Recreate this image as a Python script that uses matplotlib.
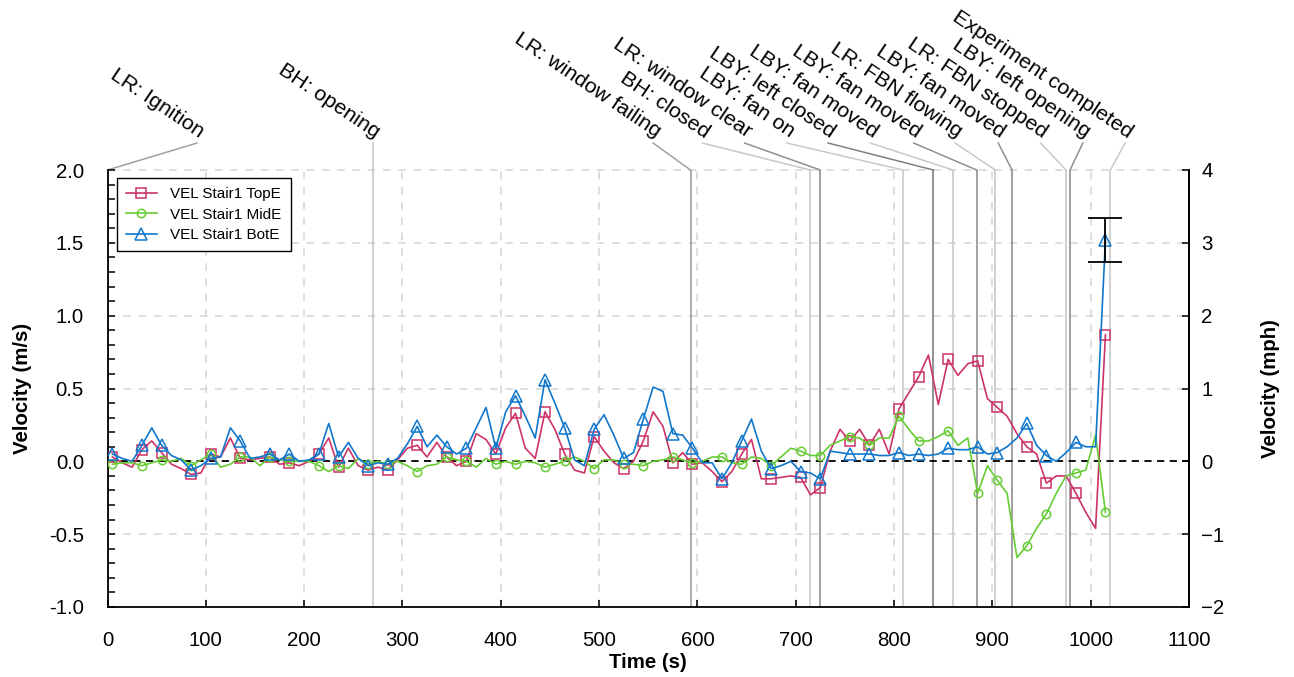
import matplotlib
matplotlib.use('Agg')
import matplotlib.pyplot as plt
from matplotlib.ticker import MultipleLocator

plt.rcParams['font.family'] = ['Liberation Sans', 'DejaVu Sans']

# ---------------- data ----------------
time_s = [5, 15, 25, 35, 45, 55, 65, 75, 85, 95,
          105, 115, 125, 135, 145, 155, 165, 175, 185, 195,
          205, 215, 225, 235, 245, 255, 265, 275, 285, 295,
          305, 315, 325, 335, 345, 355, 365, 375, 385, 395,
          405, 415, 425, 435, 445, 455, 465, 475, 485, 495,
          505, 515, 525, 535, 545, 555, 565, 575, 585, 595,
          605, 615, 625, 635, 645, 655, 665, 675, 685, 695,
          705, 715, 725, 735, 745, 755, 765, 775, 785, 795,
          805, 815, 825, 835, 845, 855, 865, 875, 885, 895,
          905, 915, 925, 935, 945, 955, 965, 975, 985, 995,
          1005, 1015]

top_e = [0.03, -0.01, -0.04, 0.08, 0.14, 0.06, -0.02, -0.05, -0.09, -0.08,
         0.05, 0.03, 0.16, 0.02, 0.01, 0.02, 0.03, -0.02, -0.01, -0.03,
         0.00, 0.05, 0.16, -0.04, 0.09, -0.03, -0.06, -0.04, -0.06, 0.01,
         0.09, 0.11, 0.03, 0.13, 0.03, -0.03, 0.00, 0.19, 0.15, 0.05,
         0.23, 0.33, 0.09, 0.02, 0.34, 0.22, 0.05, -0.06, -0.08, 0.17,
         0.07, -0.01, -0.05, 0.00, 0.14, 0.34, 0.24, -0.01, 0.06, -0.02,
         -0.01, -0.07, -0.14, -0.07, 0.05, 0.15, -0.12, -0.12, -0.11, -0.10,
         -0.11, -0.23, -0.18, 0.07, 0.22, 0.14, 0.22, 0.11, 0.22, 0.05,
         0.36, 0.47, 0.58, 0.73, 0.39, 0.70, 0.59, 0.67, 0.69, 0.43,
         0.37, 0.31, 0.19, 0.10, 0.05, -0.15, -0.10, -0.10, -0.22, -0.35,
         -0.46, 0.87]

mid_e = [-0.02, -0.01, -0.01, -0.03, -0.01, 0.01, 0.00, 0.02, -0.03, 0.01,
         0.05, -0.04, -0.02, 0.03, 0.03, -0.03, 0.03, 0.01, 0.00, 0.00,
         0.00, -0.03, -0.07, -0.03, -0.05, 0.02, -0.02, 0.00, -0.02, 0.00,
         -0.03, -0.07, -0.03, -0.02, 0.03, 0.01, 0.00, -0.04, 0.02, -0.02,
         0.00, -0.02, 0.00, -0.01, -0.04, -0.02, 0.00, 0.03, 0.00, -0.05,
         0.01, 0.01, -0.02, -0.02, -0.03, 0.00, 0.01, 0.03, 0.01, -0.01,
         0.00, 0.03, 0.03, -0.01, -0.02, 0.03, 0.02, -0.03, 0.03, 0.09,
         0.07, 0.04, 0.04, 0.11, 0.14, 0.17, 0.16, 0.11, 0.16, 0.16,
         0.31, 0.22, 0.14, 0.14, 0.17, 0.21, 0.11, 0.16, -0.22, -0.03,
         -0.13, -0.22, -0.66, -0.58, -0.46, -0.36, -0.22, -0.10, -0.08, -0.06,
         0.18, -0.35]

bot_e = [0.05, 0.02, 0.00, 0.11, 0.23, 0.11, 0.04, 0.01, -0.06, -0.03,
         0.02, 0.03, 0.23, 0.14, 0.02, 0.03, 0.05, 0.01, 0.05, 0.00,
         0.01, 0.05, 0.26, 0.03, 0.13, 0.02, -0.03, -0.01, -0.02, 0.02,
         0.12, 0.24, 0.10, 0.18, 0.10, 0.05, 0.09, 0.23, 0.37, 0.09,
         0.34, 0.45, 0.31, 0.16, 0.56, 0.40, 0.23, 0.01, -0.03, 0.22,
         0.32, 0.18, 0.02, 0.06, 0.29, 0.51, 0.48, 0.19, 0.18, 0.09,
         -0.01, -0.01, -0.12, -0.01, 0.14, 0.29, 0.07, -0.05, -0.03, 0.00,
         -0.07, -0.08, -0.12, 0.07, 0.06, 0.05, 0.05, 0.05, 0.04, 0.04,
         0.06, 0.04, 0.05, 0.04, 0.05, 0.09, 0.08, 0.08, 0.10, 0.05,
         0.06, 0.10, 0.16, 0.26, 0.11, 0.04, 0.00, 0.06, 0.13, 0.10,
         0.10, 1.52]

bot_e_last_err = 0.15

event_times = [0, 270, 593, 715, 725, 809, 840, 860, 884, 903, 920, 975, 979, 1020]
event_labels = ['LR: Ignition', 'BH: opening', 'LR: window failing', 'BH: closed',
                'LR: window clear', 'LBY: fan on', 'LBY: left closed', 'LBY: fan moved',
                'LBY: fan moved', 'LR: FBN flowing', 'LBY: fan moved', 'LR: FBN stopped',
                'LBY: left opening', 'Experiment completed']

series_labels = ['VEL Stair1 TopE', 'VEL Stair1 MidE', 'VEL Stair1 BotE']

# ---------------- layout / style ----------------
label_end_x = [91, 270, 555, 605, 648, 691, 733, 776, 820, 862, 906, 949, 992, 1035]
event_colors = ['#a0a0a0', '#c8c8c8', '#a0a0a0', '#c8c8c8', '#909090', '#c8c8c8', '#808080',
                '#c8c8c8', '#909090', '#c8c8c8', '#909090', '#c8c8c8', '#909090', '#c8c8c8']
mark_idx = [0, 3, 5, 8, 10, 13, 16, 18, 21, 23, 26, 28, 31, 34, 36, 39, 41, 44, 46, 49,
            52, 54, 57, 59, 62, 64, 67, 70, 72, 75, 77, 80, 82, 85, 88, 90, 93, 95, 98, 101]
RED, GREEN, BLUE = '#CC3366', '#66CC33', '#1177CC'
FS = 14.7
FS_EV = 15.4

W, H = 1294, 677
fig = plt.figure(figsize=(W / 100, H / 100), dpi=100)
L, R, T, B = 107.5, 1189, 170, 607
ax = fig.add_axes([L / W, 1 - B / H, (R - L) / W, (B - T) / H])

ax.set_xlim(0, 1100)
ax.set_ylim(-1, 2)

# grid
for gx in range(100, 1100, 100):
    ax.plot([gx, gx], [-1, 2], color='#d4d4d4', lw=1.1, ls=(0, (5, 5)), zorder=0)
for gy in [-0.5, 0.5, 1.0, 1.5, 2.0]:
    ax.plot([0, 1100], [gy, gy], color='#d4d4d4', lw=1.1, ls=(0, (5, 5)), zorder=0, clip_on=False)

# events
label_y = 2.185
for t, lab, lx, c in zip(event_times, event_labels, label_end_x, event_colors):
    ax.plot([t, t], [-1, 2], color=c, lw=1.2, zorder=1)
    ax.plot([lx, t], [label_y, 2.0], color=c, lw=1.1, clip_on=False, zorder=1)
    ax.text(lx, label_y + 0.01, lab, rotation=-34, rotation_mode='anchor', ha='right',
            va='bottom', fontsize=FS_EV, color='black', clip_on=False)

# zero line
ax.axhline(0, color='black', lw=1.3, ls=(0, (4, 3)), zorder=2)

l1, = ax.plot(time_s, top_e, color=RED, lw=1.2, marker='s', ms=7, mfc='none', mec=RED,
              mew=1.1, markevery=mark_idx, zorder=3, label=series_labels[0])
l2, = ax.plot(time_s, mid_e, color=GREEN, lw=1.2, marker='o', ms=6, mfc='none', mec=GREEN,
              mew=1.1, markevery=mark_idx, zorder=3, label=series_labels[1])
l3, = ax.plot(time_s, bot_e, color=BLUE, lw=1.2, marker='^', ms=9, mfc='none', mec=BLUE,
              mew=1.1, markevery=mark_idx, zorder=3, label=series_labels[2])
ax.errorbar([time_s[-1]], [bot_e[-1]], yerr=[bot_e_last_err], fmt='none', ecolor='black',
            elinewidth=1.3, capsize=12.5, capthick=1.3, zorder=4)

leg = ax.legend(handles=[l1, l2, l3], loc='upper left',
                bbox_to_anchor=((117 - L) / (R - L), (B - 178) / (B - T)),
                borderaxespad=0, fontsize=11, frameon=True, fancybox=False,
                edgecolor='black', framealpha=1, handlelength=2.0, handletextpad=0.9,
                labelspacing=0.42, borderpad=0.6)
leg.get_frame().set_linewidth(1.0)

# spines and ticks
ax.spines['top'].set_visible(False)
for s in ['left', 'bottom', 'right']:
    ax.spines[s].set_linewidth(1.3)
ax.xaxis.set_major_locator(MultipleLocator(100))
ax.yaxis.set_major_locator(MultipleLocator(0.5))
ax.yaxis.set_minor_locator(MultipleLocator(0.1))
ax.tick_params(axis='both', which='both', direction='in', labelsize=FS, width=1.1)
ax.tick_params(axis='x', which='major', length=5, pad=17)
ax.tick_params(axis='y', which='major', length=5, pad=17)
ax.tick_params(axis='y', which='minor', length=5)
ax.tick_params(top=False, right=False)
ax.yaxis.set_major_formatter(matplotlib.ticker.FormatStrFormatter('%.1f'))

ax2 = ax.twinx()
ax2.set_ylim(-2, 4)
ax2.yaxis.set_major_locator(MultipleLocator(1))
ax2.tick_params(axis='y', direction='in', length=5, width=1.1, labelsize=FS, pad=9)
ax2.spines['top'].set_visible(False)
ax2.spines['right'].set_linewidth(1.3)
ax2.spines['left'].set_visible(False)
ax2.spines['bottom'].set_visible(False)

fig.text((L + R) / 2 / W, 1 - 663 / H, 'Time (s)', ha='center', va='center',
         fontsize=FS, fontweight='bold')
fig.text(23 / W, 1 - 388.5 / H, 'Velocity (m/s)', ha='center', va='center', rotation=90,
         fontsize=FS, fontweight='bold')
fig.text(1270 / W, 1 - 388.5 / H, 'Velocity (mph)', ha='center', va='center', rotation=90,
         fontsize=FS, fontweight='bold')

fig.savefig('out.png', dpi=100)
